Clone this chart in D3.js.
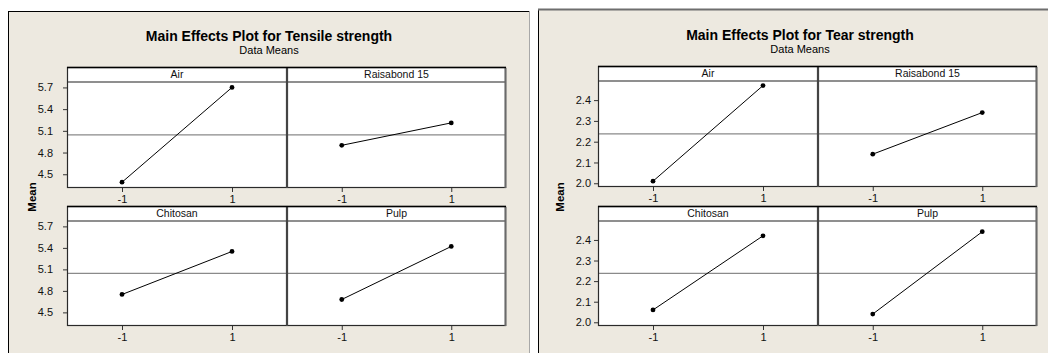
<!DOCTYPE html>
<html><head><meta charset="utf-8">
<script src="https://cdn.jsdelivr.net/npm/d3@7"></script>
<style>body{margin:0;background:#fff}svg{display:block}</style>
</head><body>
<script>
// ---- data ----
const factors = ["Air", "Raisabond 15", "Chitosan", "Pulp"];
const levels = [-1, 1];
const levelLabels = ["-1", "1"];
const tensileMeans = [[4.39, 5.70], [4.90, 5.21], [4.75, 5.35], [4.68, 5.42]];
const tearMeans = [[2.01, 2.47], [2.14, 2.34], [2.06, 2.42], [2.04, 2.44]];
const tensileGrandMean = 5.045;
const tearGrandMean = 2.238;
const tensileTicks = [4.5, 4.8, 5.1, 5.4, 5.7];
const tearTicks = [2.0, 2.1, 2.2, 2.3, 2.4];
const tensileTitle = "Main Effects Plot for Tensile strength";
const tearTitle = "Main Effects Plot for Tear strength";
const subTitle = "Data Means";
const yLabel = "Mean";

const W = 1048, H = 353;
const svg = d3.select("body").append("svg").attr("width", W).attr("height", H);
const FONT = "'Liberation Sans', Arial, sans-serif";
const BG = "#EDE9E0";

function drawChart(cfg) {
  const g = svg.append("g");
  // frame
  g.append("rect").attr("x", cfg.frame[0]).attr("y", cfg.frame[1])
    .attr("width", cfg.frame[2] - cfg.frame[0]).attr("height", H - cfg.frame[1] + 2)
    .attr("fill", BG).attr("stroke", "none");
  g.append("line").attr("x1", cfg.frame[0] + 0.5).attr("x2", cfg.frame[0] + 0.5)
    .attr("y1", cfg.frame[1]).attr("y2", H).attr("stroke", "#000");
  g.append("line").attr("x1", cfg.frame[0]).attr("x2", cfg.frame[2])
    .attr("y1", cfg.frame[1] + 0.5).attr("y2", cfg.frame[1] + 0.5)
    .attr("stroke", cfg.topStroke).attr("stroke-width", cfg.topWidth);
  if (cfg.rightStroke) {
    g.append("line").attr("x1", cfg.frame[2] - 0.5).attr("x2", cfg.frame[2] - 0.5)
      .attr("y1", cfg.frame[1]).attr("y2", H).attr("stroke", cfg.rightStroke);
  }
  const cx = (cfg.frame[0] + cfg.frame[2]) / 2;
  g.append("text").attr("x", cx).attr("y", cfg.titleY).attr("text-anchor", "middle")
    .attr("font-family", FONT).attr("font-weight", "bold").attr("font-size", 14)
    .attr("fill", "#000").text(cfg.title);
  g.append("text").attr("x", cx).attr("y", cfg.titleY + 13).attr("text-anchor", "middle")
    .attr("font-family", FONT).attr("font-size", 11).attr("fill", "#000").text(subTitle);
  g.append("text")
    .attr("transform", `translate(${cfg.meanX},${cfg.meanY}) rotate(-90)`)
    .attr("text-anchor", "middle").attr("dominant-baseline", "central")
    .attr("font-family", FONT).attr("font-weight", "bold").attr("font-size", 11.5)
    .text(yLabel);

  const cols = [[cfg.xs[0], cfg.xs[1]], [cfg.xs[1], cfg.xs[2]]];
  factors.forEach((f, i) => {
    const col = cols[i % 2];
    const row = cfg.rows[Math.floor(i / 2)];
    const x = d3.scaleLinear().domain([-2, 2]).range([col[0], col[1]]);
    const y = d3.scaleLinear().domain(cfg.yDomain).range([row.plotBottom, row.plotTop]);
    const pg = g.append("g");
    // panel background
    pg.append("rect").attr("x", col[0]).attr("y", row.stripTop)
      .attr("width", col[1] - col[0]).attr("height", row.plotBottom - row.stripTop)
      .attr("fill", "#fff");
    // mean line
    pg.append("line").attr("x1", col[0]).attr("x2", col[1])
      .attr("y1", y(cfg.grandMean)).attr("y2", y(cfg.grandMean))
      .attr("stroke", "#8a8a8a").attr("stroke-width", 1.3);
    // strip separator
    pg.append("line").attr("x1", col[0]).attr("x2", col[1])
      .attr("y1", row.plotTop).attr("y2", row.plotTop)
      .attr("stroke", "#6a6a6a").attr("stroke-width", 1.5);
    // strip text
    pg.append("text").attr("x", (col[0] + col[1]) / 2).attr("y", (row.stripTop + row.plotTop) / 2 + 3.8)
      .attr("text-anchor", "middle").attr("font-family", FONT).attr("font-size", 10.5)
      .attr("fill", "#111").text(f);
    // line & points
    const pts = levels.map((l, k) => [l, cfg.means[i][k]]);
    pg.append("path").datum(pts)
      .attr("d", d3.line().x(d => x(d[0])).y(d => y(d[1])))
      .attr("fill", "none").attr("stroke", "#000").attr("stroke-width", 1);
    pg.selectAll("circle").data(pts).join("circle")
      .attr("cx", d => x(d[0])).attr("cy", d => y(d[1])).attr("r", 2.4).attr("fill", "#000");
    // x axis
    const xa = pg.append("g").attr("transform", `translate(0,${row.plotBottom})`)
      .call(d3.axisBottom(x).tickValues(levels).tickSize(4).tickSizeOuter(0)
        .tickFormat(d => levelLabels[levels.indexOf(d)]));
    xa.select(".domain").remove();
    xa.selectAll("line").attr("stroke", "#333");
    xa.selectAll("text").attr("font-family", FONT).attr("font-size", 11).attr("fill", "#111")
      .attr("dy", "0.71em").attr("y", 7);
    // y axis on left column only
    if (i % 2 === 0) {
      const ya = pg.append("g").attr("transform", `translate(${col[0]},0)`)
        .call(d3.axisLeft(y).tickValues(cfg.ticks).tickSize(4).tickPadding(cfg.tickPad).tickFormat(d3.format(".1f")));
      ya.select(".domain").remove();
      ya.selectAll("line").attr("stroke", "#333");
      ya.selectAll("text").attr("font-family", FONT).attr("font-size", 11).attr("fill", "#111");
    }
    // panel border
    pg.append("rect").attr("x", col[0] + 0.5).attr("y", row.stripTop + 0.5)
      .attr("width", col[1] - col[0] - 1).attr("height", row.plotBottom - row.stripTop - 1)
      .attr("fill", "none").attr("stroke", "#2a2a2a").attr("stroke-width", 1.2);
  });
  // center dividers and right edges emphasised
  cfg.rows.forEach(row => {
    g.append("line").attr("x1", cfg.xs[1]).attr("x2", cfg.xs[1])
      .attr("y1", row.stripTop).attr("y2", row.plotBottom)
      .attr("stroke", "#444").attr("stroke-width", 2);
    g.append("line").attr("x1", cfg.xs[2] - 0.5).attr("x2", cfg.xs[2] - 0.5)
      .attr("y1", row.stripTop + 1).attr("y2", row.plotBottom)
      .attr("stroke", "#6a6a6a").attr("stroke-width", 2);
    g.append("line").attr("x1", cfg.xs[0]).attr("x2", cfg.xs[2])
      .attr("y1", row.stripTop + 0.5).attr("y2", row.stripTop + 0.5)
      .attr("stroke", "#000").attr("stroke-width", 1.3);
  });
}

drawChart({
  frame: [8, 11, 530], topStroke: "#000", topWidth: 1, rightStroke: "#a8a8a8",
  title: tensileTitle, titleY: 41, meanX: 32, meanY: 197,
  xs: [67, 287, 506],
  rows: [{stripTop: 67, plotTop: 82, plotBottom: 188}, {stripTop: 206, plotTop: 221, plotBottom: 326}],
  yDomain: [4.31, 5.775], grandMean: tensileGrandMean, means: tensileMeans, ticks: tensileTicks, tickPad: 10
});
drawChart({
  frame: [538, 9, 1062], topStroke: "#6e6e6e", topWidth: 2, rightStroke: null,
  title: tearTitle, titleY: 40, meanX: 560, meanY: 197,
  xs: [598, 818, 1037],
  rows: [{stripTop: 66, plotTop: 81, plotBottom: 187}, {stripTop: 206, plotTop: 221, plotBottom: 326}],
  yDomain: [1.982, 2.492], grandMean: tearGrandMean, means: tearMeans, ticks: tearTicks, tickPad: 3
});
</script>
</body></html>
